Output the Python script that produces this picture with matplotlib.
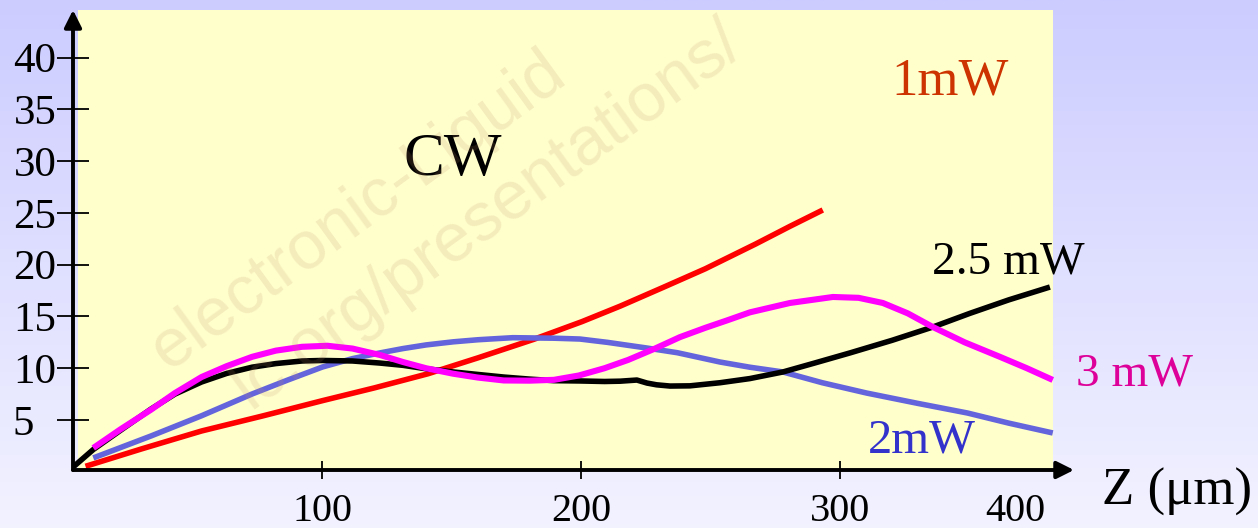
import numpy as np
import matplotlib
matplotlib.use("Agg")
import matplotlib.pyplot as plt
from matplotlib.patches import Rectangle

plt.rcParams['font.family'] = ['Liberation Serif', 'DejaVu Serif']

# ---------------- data ----------------
x_1mw = [8.5, 30, 53.3, 77, 100, 120, 140.8, 160, 181.7, 200.2, 215, 231.5,
         247.8, 267.3, 280.5, 293.2]
y_1mw = [0.53, 2.2, 3.94, 5.4, 6.87, 8.1, 9.47, 11.0, 12.8, 14.5, 16.0, 17.8,
         19.6, 22.0, 23.7, 25.28]

x_25mw = [3.3, 11.5, 22, 33.8, 43, 53.3, 63, 72.8, 82, 92.1, 100, 111.6, 122.2,
          131.1, 140, 150.5, 160, 170, 180, 189.4, 199.4, 208.9, 215, 221.4,
          225.3, 229, 234.2, 241.9, 253.5, 265, 277.8, 290, 303.7, 320, 335.7,
          350, 365, 380.9]
y_25mw = [0.37, 2.15, 4.0, 6.06, 7.5, 8.67, 9.5, 10.1, 10.45, 10.7, 10.75, 10.7,
          10.5, 10.28, 9.95, 9.64, 9.4, 9.15, 8.95, 8.8, 8.77, 8.72, 8.75, 8.86,
          8.57, 8.4, 8.28, 8.3, 8.6, 9.0, 9.64, 10.5, 11.48, 12.7, 13.98, 15.3,
          16.6, 17.84]

x_3mw = [11.5, 22, 33.8, 43, 53.3, 63, 72.8, 82, 92.1, 101.9, 111.6, 122.2,
         131.1, 140, 150.5, 160, 170, 180, 189.4, 199, 208.9, 218, 228.4, 238,
         247.8, 256, 265.1, 280.5, 297.1, 307, 316.4, 326, 335.7, 348, 361.6,
         372, 382]
y_3mw = [2.3, 4.1, 6.0, 7.6, 9.15, 10.2, 11.1, 11.7, 12.07, 12.17, 11.9, 11.28,
         10.6, 10.0, 9.47, 9.1, 8.82, 8.8, 8.88, 9.3, 10.0, 10.8, 11.9, 13.0,
         13.9, 14.6, 15.4, 16.3, 16.88, 16.8, 16.3, 15.3, 13.98, 12.5, 11.1,
         10.0, 8.87]

x_2mw = [11.5, 33.8, 53.3, 72.8, 87, 100, 111.6, 122.2, 131.1, 140, 150.5, 160,
         173.5, 189.4, 199.4, 210, 225.3, 237, 253.5, 265, 277.8, 293, 310.2,
         330, 349, 365, 382]
y_2mw = [1.34, 3.46, 5.41, 7.51, 8.9, 10.12, 10.93, 11.48, 11.9, 12.25, 12.55,
         12.75, 12.95, 12.9, 12.82, 12.5, 11.95, 11.5, 10.6, 10.1, 9.64, 8.6,
         7.6, 6.6, 5.68, 4.7, 3.75]

y_ticks = [5, 10, 15, 20, 25, 30, 35, 40]
y_tick_labels = ['5\u2007', '10', '15', '20', '25', '30', '35', '40']
x_ticks = [100, 200, 300]
x_tick_labels = ['100', '200', '300']
x_extra_tick = [367.4]
x_extra_label = ['400']

# ---------------- figure ----------------
W, H = 1258, 528
fig = plt.figure(figsize=(W / 100, H / 100), dpi=100)

# lavender gradient background
bg = fig.add_axes([0, 0, 1, 1], zorder=-5)
top = np.array([0.80, 0.80, 1.00])
bot = np.array([0.95, 0.95, 1.00])
t = np.linspace(0, 1, 256)[:, None]
grad = (top[None, :] * (1 - t) + bot[None, :] * t)[:, None, :]
bg.imshow(grad, aspect='auto', extent=[0, 1, 0, 1], origin='upper')
bg.set_xlim(0, 1)
bg.set_ylim(0, 1)
bg.axis('off')

# main axes positioned on the pixel grid of the reference
x0p, x1p, y0p, y1p = 73, 1074, 470, 10
ax = fig.add_axes([x0p / W, (H - y0p) / H, (x1p - x0p) / W, (y0p - y1p) / H])
ax.set_facecolor('none')
ax.set_xlim(3.67, 390.2)
ax.set_ylim(0.174, 44.59)
for s in ax.spines.values():
    s.set_visible(False)

ax.add_patch(Rectangle((5.6, 0.174), 382.0 - 5.6, 44.59 - 0.174,
                       facecolor='#FFFFCC', edgecolor='none', zorder=0))

# faint watermark
wm_kw = dict(family='Liberation Sans', fontsize=49, color='#C09060', alpha=0.17,
             rotation=36, rotation_mode='anchor', ha='left', va='baseline',
             transform=fig.transFigure, zorder=1)
fig.text(168 / W, 1 - 372 / H, 'electronic-Liquid', **wm_kw)
fig.text(250 / W, 1 - 410 / H, 'lc.org/presentations/', **wm_kw)

ax.plot(x_1mw, y_1mw, color='#FF0000', lw=4.0, solid_capstyle='butt', zorder=3)
ax.plot(x_2mw, y_2mw, color='#6464DC', lw=4.0, solid_capstyle='butt', zorder=3)
ax.plot(x_25mw, y_25mw, color='black', lw=4.0, solid_capstyle='butt', zorder=3)
ax.plot(x_3mw, y_3mw, color='#FF00FF', lw=4.4, solid_capstyle='butt', zorder=4)

# axes with arrow heads
arr = dict(arrowstyle='-|>', mutation_scale=26, lw=2.8, color='black',
           shrinkA=0, shrinkB=0)
ax.annotate('', xy=(1, 0), xytext=(0, 0), xycoords='axes fraction',
            textcoords='axes fraction', arrowprops=arr, zorder=5)
ax.annotate('', xy=(0, 1), xytext=(0, 0), xycoords='axes fraction',
            textcoords='axes fraction', arrowprops=arr, zorder=5)

# ticks
ax.set_yticks(y_ticks, labels=y_tick_labels)
ax.tick_params(axis='y', direction='inout', length=23, width=1.3,
               pad=0.5, labelsize=31, colors='black')
ax.set_xticks(x_ticks, labels=x_tick_labels)
ax.set_xticks(x_extra_tick, labels=x_extra_label, minor=True)
ax.tick_params(axis='x', which='major', direction='inout', length=13,
               width=1.3, pad=10, labelsize=29)
ax.tick_params(axis='x', which='minor', length=0, pad=16.5, labelsize=29)

# labels
ax.text(131.1, 28.66, 'CW', fontsize=44, color='black', ha='left', va='baseline')
ax.text(319.5, 36.45, '1mW', fontsize=38, color='#CC3300', ha='left', va='baseline')
ax.text(335.3, 19.19, '2.5 mW', fontsize=34, color='black', ha='left',
        va='baseline', clip_on=False)
ax.text(390.9, 8.38, '3 mW', fontsize=34, color='#DD0099', ha='left',
        va='baseline', clip_on=False)
ax.text(310.6, 1.91, '2mW', fontsize=35, color='#3333CC', ha='left', va='baseline')
ax.text(401.0, -3.2, 'Z (\u03bcm)', fontsize=38, color='black', ha='left',
        va='baseline', clip_on=False)

fig.savefig('out.png', dpi=100)
